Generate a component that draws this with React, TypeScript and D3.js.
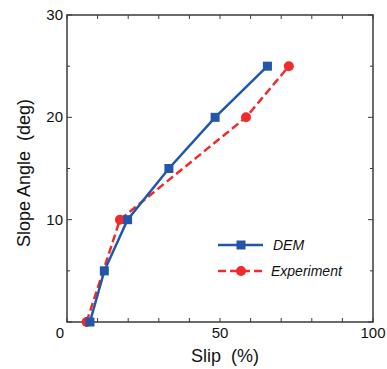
import React from "react";
import * as d3 from "d3";

const demSlip = [7.5, 12.2, 19.8, 33.3, 48.4, 65.5];
const demAngle = [0, 5, 10, 15, 20, 25];
const expSlip = [6.4, 17.3, 58.5, 72.5];
const expAngle = [0, 10, 20, 25];
const xTicks = [0, 10, 20, 30, 40, 50, 60, 70, 80, 90, 100];
const xLabels = [50, 100];
const yTicks = [0, 5, 10, 15, 20, 25, 30];
const yLabels = [10, 20, 30];
const originLabel = "0";

const W = 387, H = 369;
const L = 67, R = 373, T = 15, B = 322;
const BLUE = "#2356a8";
const RED = "#ee2c2c";
const AX = "#3a3a3a";
const FONT = "Liberation Sans, Arial, sans-serif";

export default function App() {
  const x = d3.scaleLinear().domain([0, 100]).range([L, R]);
  const y = d3.scaleLinear().domain([0, 30]).range([B, T]);
  const line = d3.line<[number, number]>().x(d => x(d[0])).y(d => y(d[1]));
  const dem = demSlip.map((s, i) => [s, demAngle[i]] as [number, number]);
  const exp = expSlip.map((s, i) => [s, expAngle[i]] as [number, number]);
  return (
    <svg width={W} height={H} style={{ position: "absolute", left: 0, top: 0 }}>
      <rect x={0} y={0} width={W} height={H} fill="#fff" />
      {xTicks.map(t => (
        <g key={"xt" + t}>
          <line x1={x(t)} x2={x(t)} y1={B} y2={B - 4} stroke={AX} strokeWidth={1} />
          <line x1={x(t)} x2={x(t)} y1={T} y2={T + 4} stroke={AX} strokeWidth={1} />
        </g>
      ))}
      {yTicks.map(t => (
        <g key={"yt" + t}>
          <line x1={L} x2={L + (t % 10 === 0 ? 5 : 3)} y1={y(t)} y2={y(t)} stroke={AX} strokeWidth={1} />
          <line x1={R} x2={R - (t % 10 === 0 ? 5 : 3)} y1={y(t)} y2={y(t)} stroke={AX} strokeWidth={1} />
        </g>
      ))}
      <rect x={L} y={T} width={R - L} height={B - T} fill="none" stroke={AX} strokeWidth={1.5} />
      {xLabels.map(t => (
        <text key={"xl" + t} x={x(t)} y={B + 16} textAnchor="middle" fontFamily={FONT} fontSize={15} fill="#111">{t}</text>
      ))}
      {yLabels.map(t => (
        <text key={"yl" + t} x={L - 4} y={y(t) + 5} textAnchor="end" fontFamily={FONT} fontSize={15} fill="#111">{t}</text>
      ))}
      <text x={L - 7} y={B + 16} textAnchor="middle" fontFamily={FONT} fontSize={15} fill="#111">{originLabel}</text>
      <text x={225} y={362} textAnchor="middle" fontFamily={FONT} fontSize={18} fill="#111" style={{ whiteSpace: "pre" }}>{"Slip  (%)"}</text>
      <text transform={`translate(30,173) rotate(-90)`} textAnchor="middle" fontFamily={FONT} fontSize={18} fill="#111" style={{ whiteSpace: "pre" }}>{"Slope Angle  (deg)"}</text>
      <path d={line(exp) || ""} fill="none" stroke={RED} strokeWidth={2.5} strokeDasharray="8,4" />
      {exp.map((d, i) => (
        <circle key={"e" + i} cx={x(d[0])} cy={y(d[1])} r={5} fill={RED} />
      ))}
      <path d={line(dem) || ""} fill="none" stroke={BLUE} strokeWidth={2.5} />
      {dem.map((d, i) => (
        <rect key={"d" + i} x={x(d[0]) - 4.5} y={y(d[1]) - 4.5} width={9} height={9} fill={BLUE} />
      ))}
      <line x1={218} x2={263} y1={245} y2={245} stroke={BLUE} strokeWidth={2.5} />
      <rect x={241 - 4.5} y={245 - 4.5} width={9} height={9} fill={BLUE} />
      <text x={273} y={250} fontFamily={FONT} fontSize={14} fontStyle="italic" fill="#111">DEM</text>
      <line x1={218} x2={263} y1={271} y2={271} stroke={RED} strokeWidth={2.5} strokeDasharray="8,4" />
      <circle cx={241} cy={271} r={5} fill={RED} />
      <text x={271} y={276} fontFamily={FONT} fontSize={14} fontStyle="italic" fill="#111">Experiment</text>
    </svg>
  );
}
